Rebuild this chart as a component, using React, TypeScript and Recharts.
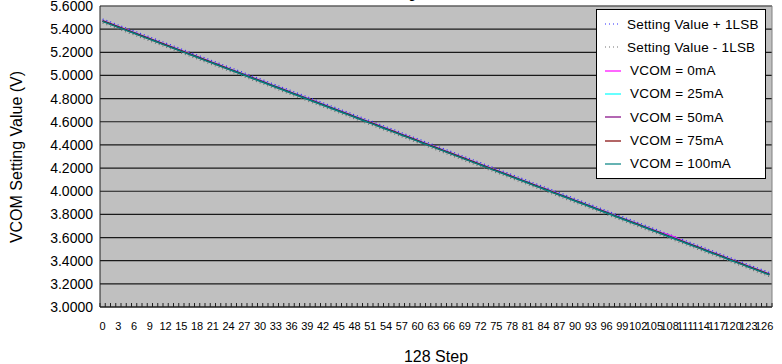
import { CartesianGrid, Line, LineChart, ReferenceLine, XAxis, YAxis } from "recharts";

// 128 DAC steps, label every 3rd one like the original sheet
const steps = Array.from({ length: 128 }, (_, i) => i);
const stepLabels = [0, 3, 6, 9, 12, 15, 18, 21, 24, 27, 30, 33, 36, 39, 42, 45, 48, 51, 54, 57, 60, 63, 66, 69, 72, 75, 78, 81, 84, 87, 90, 93, 96, 99, 102, 105, 108, 111, 114, 117, 120, 123, 126];
const yTicks = [3.0, 3.2, 3.4, 3.6, 3.8, 4.0, 4.2, 4.4, 4.6, 4.8, 5.0, 5.2, 5.4, 5.6];

const settingPlus1Lsb = [
  5.487, 5.470, 5.453, 5.435, 5.418, 5.401, 5.384, 5.366, 5.349, 5.332,
  5.315, 5.297, 5.280, 5.263, 5.246, 5.228, 5.211, 5.194, 5.177, 5.159,
  5.142, 5.125, 5.108, 5.090, 5.073, 5.056, 5.039, 5.022, 5.004, 4.987,
  4.970, 4.953, 4.935, 4.918, 4.901, 4.884, 4.866, 4.849, 4.832, 4.815,
  4.797, 4.780, 4.763, 4.746, 4.728, 4.711, 4.694, 4.677, 4.659, 4.642,
  4.625, 4.608, 4.591, 4.573, 4.556, 4.539, 4.522, 4.504, 4.487, 4.470,
  4.453, 4.435, 4.418, 4.401, 4.384, 4.366, 4.349, 4.332, 4.315, 4.297,
  4.280, 4.263, 4.246, 4.228, 4.211, 4.194, 4.177, 4.160, 4.142, 4.125,
  4.108, 4.091, 4.073, 4.056, 4.039, 4.022, 4.004, 3.987, 3.970, 3.953,
  3.935, 3.918, 3.901, 3.884, 3.866, 3.849, 3.832, 3.815, 3.797, 3.780,
  3.763, 3.746, 3.729, 3.711, 3.694, 3.677, 3.660, 3.642, 3.625, 3.608,
  3.591, 3.573, 3.556, 3.539, 3.522, 3.504, 3.487, 3.470, 3.453, 3.435,
  3.418, 3.401, 3.384, 3.366, 3.349, 3.332, 3.315, 3.298,
];

const settingMinus1Lsb = [
  5.453, 5.436, 5.419, 5.401, 5.384, 5.367, 5.350, 5.332, 5.315, 5.298,
  5.281, 5.263, 5.246, 5.229, 5.212, 5.194, 5.177, 5.160, 5.143, 5.125,
  5.108, 5.091, 5.074, 5.056, 5.039, 5.022, 5.005, 4.988, 4.970, 4.953,
  4.936, 4.919, 4.901, 4.884, 4.867, 4.850, 4.832, 4.815, 4.798, 4.781,
  4.763, 4.746, 4.729, 4.712, 4.694, 4.677, 4.660, 4.643, 4.625, 4.608,
  4.591, 4.574, 4.557, 4.539, 4.522, 4.505, 4.488, 4.470, 4.453, 4.436,
  4.419, 4.401, 4.384, 4.367, 4.350, 4.332, 4.315, 4.298, 4.281, 4.263,
  4.246, 4.229, 4.212, 4.194, 4.177, 4.160, 4.143, 4.126, 4.108, 4.091,
  4.074, 4.057, 4.039, 4.022, 4.005, 3.988, 3.970, 3.953, 3.936, 3.919,
  3.901, 3.884, 3.867, 3.850, 3.832, 3.815, 3.798, 3.781, 3.763, 3.746,
  3.729, 3.712, 3.695, 3.677, 3.660, 3.643, 3.626, 3.608, 3.591, 3.574,
  3.557, 3.539, 3.522, 3.505, 3.488, 3.470, 3.453, 3.436, 3.419, 3.401,
  3.384, 3.367, 3.350, 3.332, 3.315, 3.298, 3.281, 3.264,
];

const vcom0mA = [
  5.475, 5.458, 5.441, 5.423, 5.406, 5.389, 5.372, 5.354, 5.337, 5.320,
  5.303, 5.285, 5.268, 5.251, 5.234, 5.216, 5.199, 5.182, 5.165, 5.147,
  5.130, 5.113, 5.096, 5.078, 5.061, 5.044, 5.027, 5.010, 4.992, 4.975,
  4.958, 4.941, 4.923, 4.906, 4.889, 4.872, 4.854, 4.837, 4.820, 4.803,
  4.785, 4.768, 4.751, 4.734, 4.716, 4.699, 4.682, 4.665, 4.647, 4.630,
  4.613, 4.596, 4.579, 4.561, 4.544, 4.527, 4.510, 4.492, 4.475, 4.458,
  4.441, 4.423, 4.406, 4.389, 4.372, 4.354, 4.337, 4.320, 4.303, 4.285,
  4.268, 4.251, 4.234, 4.216, 4.199, 4.182, 4.165, 4.148, 4.130, 4.113,
  4.096, 4.079, 4.061, 4.044, 4.027, 4.010, 3.992, 3.975, 3.958, 3.941,
  3.923, 3.906, 3.889, 3.872, 3.854, 3.837, 3.820, 3.803, 3.785, 3.768,
  3.751, 3.734, 3.717, 3.699, 3.682, 3.665, 3.648, 3.636, 3.620, 3.603,
  3.582, 3.561, 3.544, 3.527, 3.510, 3.492, 3.475, 3.458, 3.441, 3.423,
  3.406, 3.389, 3.372, 3.354, 3.337, 3.320, 3.303, 3.286,
];

const vcom25mA = [
  5.473, 5.456, 5.439, 5.421, 5.404, 5.387, 5.370, 5.352, 5.335, 5.318,
  5.301, 5.283, 5.266, 5.249, 5.232, 5.214, 5.197, 5.180, 5.163, 5.145,
  5.128, 5.111, 5.094, 5.076, 5.059, 5.042, 5.025, 5.008, 4.990, 4.973,
  4.956, 4.939, 4.921, 4.904, 4.887, 4.870, 4.852, 4.835, 4.818, 4.801,
  4.783, 4.766, 4.749, 4.732, 4.714, 4.697, 4.680, 4.663, 4.645, 4.628,
  4.611, 4.594, 4.577, 4.559, 4.542, 4.525, 4.508, 4.490, 4.473, 4.456,
  4.439, 4.421, 4.404, 4.387, 4.370, 4.352, 4.335, 4.318, 4.301, 4.283,
  4.266, 4.249, 4.232, 4.214, 4.197, 4.180, 4.163, 4.146, 4.128, 4.111,
  4.094, 4.077, 4.059, 4.042, 4.025, 4.008, 3.990, 3.973, 3.956, 3.939,
  3.921, 3.904, 3.887, 3.870, 3.852, 3.835, 3.818, 3.801, 3.783, 3.766,
  3.749, 3.732, 3.715, 3.697, 3.680, 3.663, 3.646, 3.628, 3.611, 3.594,
  3.577, 3.559, 3.542, 3.525, 3.508, 3.490, 3.473, 3.456, 3.439, 3.421,
  3.404, 3.387, 3.370, 3.352, 3.335, 3.318, 3.301, 3.284,
];

const vcom50mA = [
  5.471, 5.454, 5.437, 5.419, 5.402, 5.385, 5.368, 5.350, 5.333, 5.316,
  5.299, 5.281, 5.264, 5.247, 5.230, 5.212, 5.195, 5.178, 5.161, 5.143,
  5.126, 5.109, 5.092, 5.074, 5.057, 5.040, 5.023, 5.006, 4.988, 4.971,
  4.954, 4.937, 4.919, 4.902, 4.885, 4.868, 4.850, 4.833, 4.816, 4.799,
  4.781, 4.764, 4.747, 4.730, 4.712, 4.695, 4.678, 4.661, 4.643, 4.626,
  4.609, 4.592, 4.575, 4.557, 4.540, 4.523, 4.506, 4.488, 4.471, 4.454,
  4.437, 4.419, 4.402, 4.385, 4.368, 4.350, 4.333, 4.316, 4.299, 4.281,
  4.264, 4.247, 4.230, 4.212, 4.195, 4.178, 4.161, 4.144, 4.126, 4.109,
  4.092, 4.075, 4.057, 4.040, 4.023, 4.006, 3.988, 3.971, 3.954, 3.937,
  3.919, 3.902, 3.885, 3.868, 3.850, 3.833, 3.816, 3.799, 3.781, 3.764,
  3.747, 3.730, 3.713, 3.695, 3.678, 3.661, 3.644, 3.626, 3.609, 3.592,
  3.575, 3.557, 3.540, 3.523, 3.506, 3.488, 3.471, 3.454, 3.437, 3.419,
  3.402, 3.385, 3.368, 3.350, 3.333, 3.316, 3.299, 3.282,
];

const vcom75mA = [
  5.470, 5.453, 5.436, 5.418, 5.401, 5.384, 5.367, 5.349, 5.332, 5.315,
  5.298, 5.280, 5.263, 5.246, 5.229, 5.211, 5.194, 5.177, 5.160, 5.142,
  5.125, 5.108, 5.091, 5.073, 5.056, 5.039, 5.022, 5.005, 4.987, 4.970,
  4.953, 4.936, 4.918, 4.901, 4.884, 4.867, 4.849, 4.832, 4.815, 4.798,
  4.780, 4.763, 4.746, 4.729, 4.711, 4.694, 4.677, 4.660, 4.642, 4.625,
  4.608, 4.591, 4.574, 4.556, 4.539, 4.522, 4.505, 4.487, 4.470, 4.453,
  4.436, 4.418, 4.401, 4.384, 4.367, 4.349, 4.332, 4.315, 4.298, 4.280,
  4.263, 4.246, 4.229, 4.211, 4.194, 4.177, 4.160, 4.143, 4.125, 4.108,
  4.091, 4.074, 4.056, 4.039, 4.022, 4.005, 3.987, 3.970, 3.953, 3.936,
  3.918, 3.901, 3.884, 3.867, 3.849, 3.832, 3.815, 3.798, 3.780, 3.763,
  3.746, 3.729, 3.712, 3.694, 3.677, 3.660, 3.643, 3.625, 3.608, 3.591,
  3.574, 3.556, 3.539, 3.522, 3.505, 3.487, 3.470, 3.453, 3.436, 3.418,
  3.401, 3.384, 3.367, 3.349, 3.332, 3.315, 3.298, 3.281,
];

const vcom100mA = [
  5.467, 5.450, 5.433, 5.415, 5.398, 5.381, 5.364, 5.346, 5.329, 5.312,
  5.295, 5.277, 5.260, 5.243, 5.226, 5.208, 5.191, 5.174, 5.157, 5.139,
  5.122, 5.105, 5.088, 5.070, 5.053, 5.036, 5.019, 5.002, 4.984, 4.967,
  4.950, 4.933, 4.915, 4.898, 4.881, 4.864, 4.846, 4.829, 4.812, 4.795,
  4.777, 4.760, 4.743, 4.726, 4.708, 4.691, 4.674, 4.657, 4.639, 4.622,
  4.605, 4.588, 4.571, 4.553, 4.536, 4.519, 4.502, 4.484, 4.467, 4.450,
  4.433, 4.415, 4.398, 4.381, 4.364, 4.346, 4.329, 4.312, 4.295, 4.277,
  4.260, 4.243, 4.226, 4.208, 4.191, 4.174, 4.157, 4.140, 4.122, 4.105,
  4.088, 4.071, 4.053, 4.036, 4.019, 4.002, 3.984, 3.967, 3.950, 3.933,
  3.915, 3.898, 3.881, 3.864, 3.846, 3.829, 3.812, 3.795, 3.777, 3.760,
  3.743, 3.726, 3.709, 3.691, 3.674, 3.657, 3.640, 3.622, 3.605, 3.588,
  3.571, 3.553, 3.536, 3.519, 3.502, 3.484, 3.467, 3.450, 3.433, 3.415,
  3.398, 3.381, 3.364, 3.346, 3.329, 3.312, 3.295, 3.278,
];

const seriesList = [
  { key: "plus", name: "Setting Value + 1LSB", color: "#2a2aff", dash: "1 3", width: 1.4, values: settingPlus1Lsb },
  { key: "minus", name: "Setting Value - 1LSB", color: "#707070", dash: "1 3", width: 1.4, values: settingMinus1Lsb },
  { key: "v0", name: "VCOM = 0mA", color: "#ff00ff", dash: undefined, width: 1.5, values: vcom0mA },
  { key: "v25", name: "VCOM = 25mA", color: "#00ffff", dash: undefined, width: 1.5, values: vcom25mA },
  { key: "v50", name: "VCOM = 50mA", color: "#800080", dash: undefined, width: 1.5, values: vcom50mA },
  { key: "v75", name: "VCOM = 75mA", color: "#800000", dash: undefined, width: 1.5, values: vcom75mA },
  { key: "v100", name: "VCOM = 100mA", color: "#008080", dash: undefined, width: 1.5, values: vcom100mA },
];

const data = steps.map((step, i) => {
  const row: any = { step };
  seriesList.forEach((s) => {
    row[s.key] = s.values[i];
  });
  return row;
});

const W = 782;
const H = 364;
const LEFT = 100;
const RIGHT = 772;
const TOP = 6;
const BOTTOM = 307;
const HALF = (RIGHT - LEFT) / 128 / 2;
// tick marks sit between categories (Excel style)
const boundaries = Array.from({ length: 129 }, (_, i) => i - 0.5);

const renderStepTick = (props: any) => {
  const { x, y, payload } = props;
  const mid = payload.value + 0.5;
  return (
    <g>
      <line x1={x} x2={x} y1={y - 4} y2={y} stroke="#202020" strokeWidth={1} />
      {stepLabels.includes(mid) && (
        <text x={x + HALF} y={y + 23} textAnchor="middle" fontSize={11} fill="#000">
          {mid}
        </text>
      )}
    </g>
  );
};

export default function App() {
  return (
    <div style={{ position: "absolute", left: 0, top: 0, width: W, height: H, background: "#fff", fontFamily: "'Liberation Sans', Arial, sans-serif" }}>
      <LineChart width={W} height={H} data={data} margin={{ top: TOP, right: W - RIGHT, left: 0, bottom: 0 }}>
        <CartesianGrid vertical={false} stroke="#1a1a1a" strokeWidth={1.2} fill="#c0c0c0" fillOpacity={1} />
        <XAxis
          dataKey="step"
          type="number"
          domain={[-0.5, 127.5]}
          ticks={boundaries}
          interval={0}
          allowDataOverflow
          tick={renderStepTick}
          tickLine={false}
          tickSize={0}
          tickMargin={0}
          axisLine={{ stroke: "#202020" }}
          height={H - BOTTOM}
          label={() => (
            <text x={(LEFT + RIGHT) / 2} y={356} textAnchor="middle" dominantBaseline="central" fontSize={16} fill="#000">
              128 Step
            </text>
          )}
        />
        <YAxis
          type="number"
          domain={[3, 5.6]}
          ticks={yTicks}
          interval={0}
          allowDataOverflow
          tickFormatter={(v: number) => v.toFixed(4)}
          tick={{ fill: "#000", fontSize: 14 }}
          tickLine={false}
          tickSize={0}
          tickMargin={7}
          axisLine={{ stroke: "#202020" }}
          width={LEFT}
          label={() => (
            <text x={16} y={157} transform="rotate(-90 16 157)" textAnchor="middle" dominantBaseline="central" fontSize={16} fill="#000">
              VCOM Setting Value (V)
            </text>
          )}
        />
        <ReferenceLine
          y={5.6}
          stroke="#808080"
          label={() => (
            <text x={416} y={-2} textAnchor="end" fontSize={14} fill="#000">
              VCOM Setting
            </text>
          )}
        />
        <ReferenceLine x={127.5} stroke="#808080" />
        {seriesList.map((s) => (
          <Line
            key={s.key}
            type="linear"
            dataKey={s.key}
            name={s.name}
            stroke={s.color}
            strokeWidth={s.width}
            strokeDasharray={s.dash}
            dot={false}
            activeDot={false}
            isAnimationActive={false}
          />
        ))}
      </LineChart>
      <div
        style={{
          position: "absolute",
          left: 596,
          top: 9,
          width: 170,
          height: 170,
          boxSizing: "border-box",
          border: "1px solid #000",
          background: "#fff",
        }}
      >
        {seriesList.map((s, i) => (
          <div key={s.key} style={{ position: "absolute", left: 0, top: 3 + i * 23.3, height: 22, display: "flex", alignItems: "center" }}>
            <svg width={30} height={22} style={{ display: "block" }}>
              <line x1={8} x2={24} y1={11} y2={11} stroke={s.color} strokeWidth={1.2} strokeDasharray={s.dash} />
            </svg>
            <span style={{ fontSize: 13.5, color: "#000", marginLeft: i < 2 ? 0 : 3, whiteSpace: "nowrap", letterSpacing: 0.2 }}>{s.name}</span>
          </div>
        ))}
      </div>
    </div>
  );
}
